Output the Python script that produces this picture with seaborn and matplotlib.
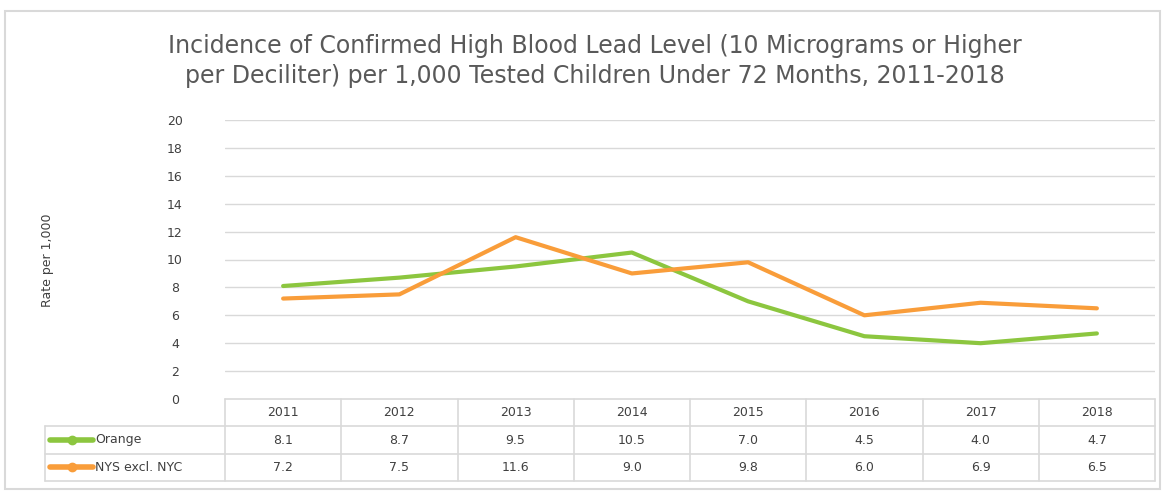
import numpy as np
import pandas as pd
import seaborn as sns
import matplotlib.pyplot as plt
from matplotlib.patches import Rectangle

years = [2011, 2012, 2013, 2014, 2015, 2016, 2017, 2018]
orange = [8.1, 8.7, 9.5, 10.5, 7.0, 4.5, 4.0, 4.7]
nys = [7.2, 7.5, 11.6, 9.0, 9.8, 6.0, 6.9, 6.5]
series_names = ['Orange', 'NYS excl. NYC']
colors = ['#8CC63F', '#F99D3A']

df = pd.DataFrame({'Year': years * 2,
                   'Rate': orange + nys,
                   'Series': [series_names[0]] * len(years) + [series_names[1]] * len(years)})

sns.set_style('white')
plt.rcParams['font.family'] = ['DejaVu Sans']
txt = '#595959'
dark = '#404040'
grid = '#D9D9D9'

W, H = 1167, 491
fig = plt.figure(figsize=(W / 100, H / 100), dpi=100)
fig.patches.append(Rectangle((5 / W, 2 / H), 1155 / W, 478 / H, transform=fig.transFigure,
                             fill=False, edgecolor=grid, lw=1.5))

# main plot area
ax = fig.add_axes([225 / W, (H - 399) / H, 930 / W, 279 / H])
sns.lineplot(data=df, x='Year', y='Rate', hue='Series', palette=colors,
             linewidth=3.0, legend=False, ax=ax, zorder=3)
ax.set_xlim(2010.5, 2018.5)
ax.set_ylim(0, 20)
ax.set_yticks(np.arange(0, 21, 2))
ax.set_xticks([])
ax.set_xlabel('')
ax.set_ylabel('')
for y in np.arange(2, 21, 2):
    ax.axhline(y, color=grid, lw=1, zorder=1)
for s in ax.spines.values():
    s.set_visible(False)
ax.tick_params(axis='y', length=0, pad=36, labelsize=9, labelcolor=dark)
for lbl in ax.get_yticklabels():
    lbl.set_horizontalalignment('center')
fig.text(47 / W, 1 - 260 / H, 'Rate per 1,000', rotation=90, ha='center', va='center',
         fontsize=9, color=dark)
fig.text(595 / W, 1 - 61 / H,
         'Incidence of Confirmed High Blood Lead Level (10 Micrograms or Higher\n'
         'per Deciliter) per 1,000 Tested Children Under 72 Months, 2011-2018',
         ha='center', va='center', fontsize=17, color=txt, linespacing=1.35)

# data table
tx = fig.add_axes([45 / W, (H - 481) / H, 1110 / W, 82 / H])
tx.set_xlim(0, 1110)
tx.set_ylim(0, 82)
tx.axis('off')
lab_w = 180
col_w = (1110 - lab_w) / len(years)
row_h = 82 / 3
kw = dict(color=grid, lw=1.2, clip_on=False)
# horizontal lines
tx.plot([lab_w, 1110], [82, 82], **kw)
for yy in [2 * row_h, row_h, 0]:
    tx.plot([0, 1110], [yy, yy], **kw)
# vertical lines
tx.plot([0, 0], [0, 2 * row_h], **kw)
for i in range(len(years) + 1):
    xx = lab_w + i * col_w
    tx.plot([xx, xx], [0, 82], **kw)
for i, yr in enumerate(years):
    cx = lab_w + (i + 0.5) * col_w
    tx.text(cx, 2.5 * row_h, str(yr), ha='center', va='center', fontsize=9, color=dark)
    tx.text(cx, 1.5 * row_h, f'{orange[i]:.1f}', ha='center', va='center', fontsize=9, color=dark)
    tx.text(cx, 0.5 * row_h, f'{nys[i]:.1f}', ha='center', va='center', fontsize=9, color=dark)
for k, (name, c) in enumerate(zip(series_names, colors)):
    yy = (1.5 - k) * row_h
    tx.plot([5, 48], [yy, yy], color=c, lw=4, solid_capstyle='round', clip_on=False)
    tx.plot([26.5], [yy], marker='o', ms=6, color=c, clip_on=False)
    tx.text(50, yy, name, ha='left', va='center', fontsize=9, color=dark)

fig.savefig('out.png', dpi=100)
